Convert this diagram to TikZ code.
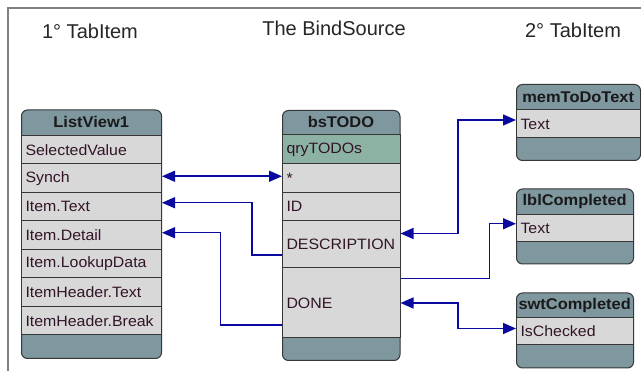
\documentclass[tikz,border=0pt]{standalone}
\usepackage{fontspec}
\setmainfont{Liberation Sans}
\newfontfamily\rowfont[FakeStretch=1.06]{Liberation Sans}
\usetikzlibrary{arrows.meta,calc}
\definecolor{hdr}{RGB}{127,151,159}
\definecolor{rowc}{RGB}{216,216,216}
\definecolor{qryc}{RGB}{140,178,164}
\definecolor{edgec}{RGB}{55,55,55}
\definecolor{linkc}{RGB}{10,10,160}
\definecolor{rowtext}{RGB}{50,20,40}
\definecolor{framec}{RGB}{128,128,128}
\begin{document}
\begin{tikzpicture}[x=1pt,y=-1pt,
  boxframe/.style={draw=edgec, fill=hdr, rounded corners=6pt, line width=1pt, anchor=north west, inner sep=0pt},
  head/.style={anchor=north west, inner sep=0pt, font=\rowfont\bfseries\fontsize{15.5}{16}\selectfont, text=black!90},
  row/.style={draw=edgec, line width=1pt, fill=rowc, anchor=north west, inner xsep=4pt, inner ysep=0pt,
    text width=#1, align=left, font=\rowfont\fontsize{15}{16}\selectfont, text=rowtext},
  title/.style={font=\fontsize{20}{22}\selectfont, text=black!85, inner sep=0pt},
  link/.style={draw=linkc, line width=1.5pt},
  >={Triangle[length=13pt,width=11pt]}
]
\useasboundingbox (0,0) rectangle (641,371);
\fill[white] (0,0) rectangle (641,371);
\draw[framec, line width=1.5pt] (641,8) -- (8,8) -- (8,371);

% titles
\node[title] (t1) at (90,31) {1° TabItem};
\node[title] (t2) at (334,28) {The BindSource};
\node[title] (t3) at (573,30) {2° TabItem};

% ListView1
\node[boxframe, minimum width=140pt, minimum height=248.5pt] (lv) at (21,109.5) {};
\node[head, minimum width=140pt, minimum height=25.5pt] (lv-h) at (21,109.5) {ListView1};
\node[row=132pt, minimum height=28.5pt] (lv-sv) at (21,135) {SelectedValue};
\node[row=132pt, minimum height=28.5pt] (lv-synch) at (21,163.5) {Synch};
\node[row=132pt, minimum height=28.5pt] (lv-text) at (21,192) {Item.Text};
\node[row=132pt, minimum height=28.5pt] (lv-det) at (21,220.5) {Item.Detail};
\node[row=132pt, minimum height=28.5pt] (lv-lkp) at (21,249) {Item.LookupData};
\node[row=132pt, minimum height=28.5pt] (lv-iht) at (21,277.5) {ItemHeader.Text};
\node[row=132pt, minimum height=28.5pt] (lv-ihb) at (21,306) {ItemHeader.Break};

% bsTODO
\node[boxframe, minimum width=117.5pt, minimum height=250pt] (bs) at (282,110) {};
\node[head, minimum width=117.5pt, minimum height=24.5pt] (bs-h) at (282,110) {bsTODO};
\node[row=109.5pt, minimum height=29pt, fill=qryc] (bs-qry) at (282,134.5) {qryTODOs};
\node[row=109.5pt, minimum height=28.5pt] (bs-star) at (282,163.5) {*};
\node[row=109.5pt, minimum height=28.5pt] (bs-id) at (282,192) {ID};
\node[row=109.5pt, minimum height=47pt] (bs-desc) at (282,220.5) {DESCRIPTION};
\node[row=109.5pt, minimum height=70pt] (bs-done) at (282,267.5) {DONE};

% memToDoText
\node[boxframe, minimum width=124pt, minimum height=76pt] (mem) at (516,84) {};
\node[head, minimum width=124pt, minimum height=25.5pt] (mem-h) at (516,84) {memToDoText};
\node[row=116pt, minimum height=28pt] (mem-text) at (516,109.5) {Text};

% lblCompleted
\node[boxframe, minimum width=117pt, minimum height=75pt] (lbl) at (516,188.5) {};
\node[head, minimum width=117pt, minimum height=25.5pt] (lbl-h) at (516,188.5) {lblCompleted};
\node[row=109pt, minimum height=27.5pt] (lbl-text) at (516,214) {Text};

% swtCompleted
\node[boxframe, minimum width=117pt, minimum height=75pt] (swt) at (516,292.5) {};
\node[head, minimum width=117pt, minimum height=25pt] (swt-h) at (516,292.5) {swtCompleted};
\node[row=109pt, minimum height=27pt] (swt-chk) at (516,317.5) {IsChecked};

% connectors, left
\draw[link, <->] ([yshift=2pt]lv-synch.east) -- ([yshift=2pt]lv-synch.east -| bs-star.west);
\draw[link, ->] ([yshift=-10.5pt]bs-desc.west) -- ++(-30,0) |- ([yshift=4pt]lv-text.east);
\draw[link, ->] ([yshift=-22pt]bs-done.west) -- ++(-61.5,0) |- ([yshift=2.5pt]lv-det.east);

% connectors, right
\draw[link, <->] ([yshift=11pt]bs-desc.east) -- ++(57.5,0) |- ([yshift=4pt]mem-text.west);
\draw[link, ->] ([yshift=24.5pt]bs-done.east) -- ++(89,0) |- ([yshift=4.5pt]lbl-text.west);
\draw[link, <->] (bs-done.east) -- ++(57.5,0) |- ([yshift=3pt]swt-chk.west);
\end{tikzpicture}
\end{document}
